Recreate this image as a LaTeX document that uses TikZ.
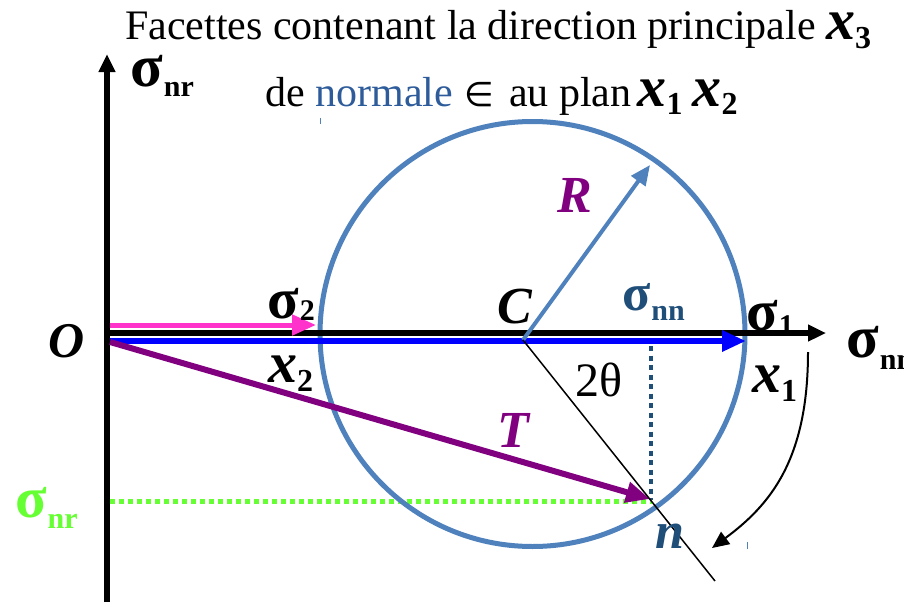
\documentclass[tikz,border=0pt]{standalone}
\usepackage{fontspec}
\setmainfont{Liberation Serif}
\newfontfamily\symfnt{DejaVu Sans}
\usetikzlibrary{arrows.meta}
\definecolor{circblue}{HTML}{4F81BD}
\definecolor{pureblue}{HTML}{0000FF}
\definecolor{pinkc}{HTML}{FF33CC}
\definecolor{purp}{HTML}{800080}
\definecolor{greenc}{HTML}{66FF33}
\definecolor{darkb}{HTML}{1F4E79}
\definecolor{normb}{HTML}{2E5C9A}
\newcommand{\Xs}[2]{{\fontsize{58}{58}\selectfont\bfseries\itshape #1}\raisebox{-9pt}{\fontsize{32}{32}\selectfont\bfseries #2}}
\newcommand{\Sg}[3]{{\fontsize{#1}{#1}\selectfont\bfseries σ}\kern1pt\raisebox{#3}{\fontsize{30}{30}\selectfont\bfseries #2}}
\begin{document}
\begin{tikzpicture}[x=1pt,y=-1pt,
  txt/.style={inner sep=0pt, anchor=base west},
  big/.style={txt, font=\fontsize{52}{52}\selectfont\bfseries\itshape},
  axis/.style={line width=5.5pt, -{Triangle[length=18pt,width=16pt]}},
  vec/.style={line width=6pt, -{Triangle[length=24pt,width=20pt]}}]
\useasboundingbox (0,0) rectangle (904,602);
% key points
\coordinate (O) at (107,333);
\coordinate (ybot) at (107,602);
\coordinate (ytop) at (107,54);
\coordinate (xend) at (826,333);
\coordinate (Cc) at (532.5,334);
\coordinate (C) at (523,340);
\coordinate (Rend) at (650,165);
\coordinate (N) at (651,500);
\coordinate (Lend) at (715,581);
\coordinate (p0) at (110,325);
\coordinate (p1) at (316,325);
\coordinate (b0) at (110,341);
\coordinate (b1) at (746,341);
\coordinate (t0) at (110,342);
\coordinate (t1) at (650,499);
\coordinate (g0) at (110,501);
\coordinate (g1) at (652,501);
\coordinate (d0) at (651,346);
\coordinate (d1) at (651,500);
\coordinate (a0) at (808,352);
\coordinate (a1) at (712,548);
\coordinate (k1a) at (320,118);
\coordinate (k1b) at (320,124);
\coordinate (k2a) at (747,542);
\coordinate (k2b) at (747,549);
% dotted projections
\draw[greenc, line width=5pt, dash pattern=on 5pt off 4pt] (g0) -- (g1);
\draw[darkb, line width=4pt, dash pattern=on 5pt off 4.5pt] (d0) -- (d1);
% circle
\draw[circblue, line width=5pt] (Cc) circle[radius=212.5];
\draw[circblue, line width=1pt] (k1a) -- (k1b);
\draw[circblue, line width=1pt] (k2a) -- (k2b);
% axes
\draw[axis] (ybot) -- (ytop);
\draw[axis] (O) -- (xend);
% vectors
\draw[vec, pinkc, line width=5pt] (p0) -- (p1);
\draw[vec, pureblue] (b0) -- (b1);
\draw[vec, purp] (t0) -- (t1);
\draw[circblue, line width=4pt, -{Triangle[length=20pt,width=17pt]}] (C) -- (Rend);
\draw[line width=1.5pt] (C) -- (Lend);
\draw[line width=2pt, -{Triangle[length=17pt,width=15pt]}] (a0) .. controls (808,460) and (770,505) .. (a1);
% texts
\node[txt, font=\fontsize{42}{42}\selectfont] (title) at (125,40) {Facettes contenant la direction principale \Xs{x}{3}};
\node[txt, font=\fontsize{42}{42}\selectfont] (line2) at (265,106) {de \textcolor{normb}{normale}\hspace{12pt}{\symfnt\fontsize{34}{34}\selectfont ∈}\hspace{4pt} au plan\hspace{6pt}\Xs{x}{1}\kern10pt\Xs{x}{2}};
\node[txt] (snrtop) at (130,86) {\Sg{60}{nr}{-10pt}};
\node[big, font=\fontsize{50}{50}\selectfont\bfseries\itshape] (Olab) at (48,357) {O};
\node[txt] (s2) at (267,318) {\Sg{58}{2}{-2pt}};
\node[txt] (x2) at (268,382) {\Xs{x}{2}};
\node[big] (Clab) at (497,323) {C};
\node[txt, text=darkb] (snn) at (622,310) {\Sg{52}{nn}{-10pt}};
\node[txt] (s1) at (746,330) {\Sg{58}{1}{-5pt}};
\node[txt] (snnr) at (846,357) {\Sg{60}{nn}{-12pt}};
\node[txt] (x1) at (752,392) {\Xs{x}{1}};
\node[txt, font=\fontsize{48}{48}\selectfont] (theta) at (575,396) {2θ};
\node[big, text=purp] (Tlab) at (497,447) {T};
\node[big, text=purp] (Rlab) at (557,212) {R};
\node[txt, text=greenc] (snrg) at (15,517) {\Sg{58}{nr}{-11pt}};
\node[big, text=darkb] (nlab) at (655,548) {n};
\end{tikzpicture}
\end{document}
